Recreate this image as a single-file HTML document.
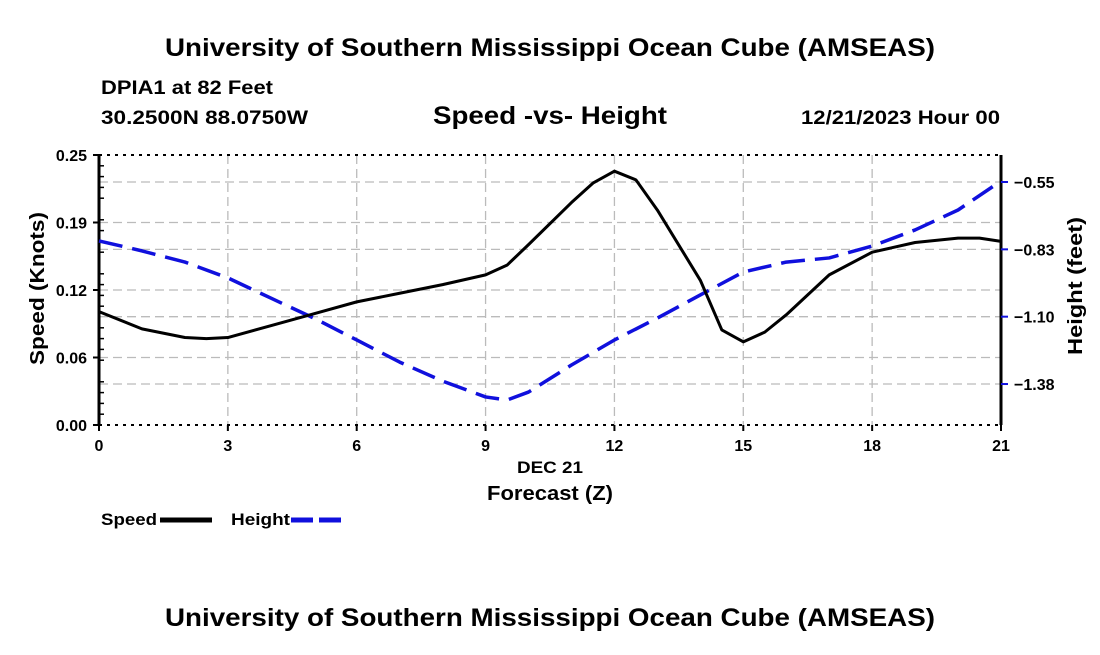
<!DOCTYPE html>
<html><head><meta charset="utf-8"><style>
body{margin:0;background:#fff;}
svg text{font-family:"Liberation Sans",Arial,sans-serif;font-weight:bold;fill:#000;}
</style></head><body>
<svg id="chart" width="1100" height="650" viewBox="0 0 1100 650">
<text x="165" y="56" font-size="25" textLength="770" lengthAdjust="spacingAndGlyphs">University of Southern Mississippi Ocean Cube (AMSEAS)</text>
<text x="101" y="94" font-size="19" textLength="172" lengthAdjust="spacingAndGlyphs">DPIA1 at 82 Feet</text>
<text x="101" y="124" font-size="19" textLength="207" lengthAdjust="spacingAndGlyphs">30.2500N  88.0750W</text>
<text x="433" y="124" font-size="25" textLength="234" lengthAdjust="spacingAndGlyphs">Speed -vs- Height</text>
<text x="801" y="124" font-size="19" textLength="199" lengthAdjust="spacingAndGlyphs">12/21/2023 Hour 00</text>
<g id="grid"></g>
<g id="axes"></g>
<g id="series"></g>
<text x="517" y="473" font-size="17" textLength="66" lengthAdjust="spacingAndGlyphs">DEC 21</text>
<text x="487" y="500" font-size="20" textLength="126" lengthAdjust="spacingAndGlyphs">Forecast (Z)</text>
<text transform="translate(44,365) rotate(-90)" font-size="20" textLength="153" lengthAdjust="spacingAndGlyphs">Speed (Knots)</text>
<text transform="translate(1082,355) rotate(-90)" font-size="20" textLength="138" lengthAdjust="spacingAndGlyphs">Height (feet)</text>
<g>
<text x="101" y="525" font-size="17" textLength="56" lengthAdjust="spacingAndGlyphs">Speed</text>
<line x1="160" y1="520" x2="212" y2="520" stroke="#000" stroke-width="5"/>
<text x="231" y="525" font-size="17" textLength="59" lengthAdjust="spacingAndGlyphs">Height</text>
<line x1="291" y1="520" x2="343" y2="520" stroke="#1010dd" stroke-width="5" stroke-dasharray="22,6"/>
</g>
<text x="165" y="626" font-size="25" textLength="770" lengthAdjust="spacingAndGlyphs">University of Southern Mississippi Ocean Cube (AMSEAS)</text>
</svg>
<script>
const hours=[0,1,2,2.5,3,4,5,6,7,8,9,9.5,10,11,11.5,12,12.5,13,14,14.5,15,15.5,16,17,18,19,20,20.5,21];
const speed=[0.105,0.089,0.081,0.080,0.081,0.092,0.103,0.114,0.122,0.130,0.139,0.148,0.167,0.206,0.224,0.235,0.227,0.199,0.134,0.088,0.077,0.086,0.102,0.139,0.160,0.169,0.173,0.173,0.170];
const heightHours=[0,1,2,3,4,5,6,7,8,9,9.5,10,11,12,13,14,15,16,17,18,19,20,21];
const heightVals=[-0.792,-0.833,-0.879,-0.944,-1.027,-1.109,-1.199,-1.290,-1.368,-1.433,-1.446,-1.413,-1.302,-1.199,-1.109,-1.014,-0.920,-0.879,-0.862,-0.813,-0.747,-0.665,-0.546];
const xTicks=[0,3,6,9,12,15,18,21];
const leftTicks=[0,0.0625,0.125,0.1875,0.25];
const leftLabels=["0.00","0.06","0.12","0.19","0.25"];
const rightTicks=[-0.55,-0.8267,-1.1033,-1.38];
const rightLabels=["\u22120.55","\u22120.83","\u22121.10","\u22121.38"];

const X0=99,X1=1001,Y0=425,Y1=155;
const xs=h=>X0+(h/21)*(X1-X0);
const ysL=v=>Y0-(v/0.25)*(Y0-Y1);
const ysR=h=>182+(-0.55-h)*243.4;
const NS="http://www.w3.org/2000/svg";
function mk(tag,attrs,parent){const e=document.createElementNS(NS,tag);for(const k in attrs)e.setAttribute(k,attrs[k]);parent.appendChild(e);return e;}
const grid=document.getElementById('grid'),axes=document.getElementById('axes'),series=document.getElementById('series');
const gs={stroke:"#bbb","stroke-width":1.3,"stroke-dasharray":"9,5"};
xTicks.forEach(t=>{if(t===0||t===21)return;
 const l=mk('line',Object.assign({x1:xs(t),x2:xs(t),y1:Y1,y2:Y0},gs),grid);
 
 });
leftTicks.forEach(v=>{if(v===0||v===0.25)return;
 const l=mk('line',Object.assign({x1:X0,x2:X1,y1:ysL(v),y2:ysL(v)},gs),grid);
 
 });
rightTicks.forEach(v=>{
 const l=mk('line',Object.assign({x1:X0,x2:X1,y1:ysR(v),y2:ysR(v)},gs),grid);
 
 });
[[X0,Y1,X0,Y0,3],[X1,Y1,X1,Y0,3]].forEach(a=>{const l=mk('line',{x1:a[0],y1:a[1],x2:a[2],y2:a[3],stroke:"#000","stroke-width":a[4]},axes);
 
 });
[Y1,Y0].forEach(y=>{const l=mk('line',{x1:X0,y1:y,x2:X1,y2:y,stroke:"#000","stroke-width":2,"stroke-dasharray":"3,5"},axes);
 
 });
for(let i=0;i<=25;i++){const y=Y0-i*(Y0-Y1)/25;const l=mk('line',{x1:X0,x2:X0+(i%5===0?0:5),y1:y,y2:y,stroke:"#000","stroke-width":1.5},axes);
 
 }
leftTicks.forEach((v,i)=>{const y=ysL(v);
 const l=mk('line',{x1:X0-6,x2:X0,y1:y,y2:y,stroke:"#000","stroke-width":2},axes);
 
 
 const t=mk('text',{x:X0-12,y:y+6,"text-anchor":"end","font-size":16},axes);t.textContent=leftLabels[i];
 
 });
rightTicks.forEach((v,i)=>{const y=ysR(v);
 const l=mk('line',{x1:X1,x2:X1+7,y1:y,y2:y,stroke:"#1010dd","stroke-width":2},axes);
 
 
 const t=mk('text',{x:X1+13,y:y+6,"font-size":16},axes);t.textContent=rightLabels[i];
 
 });
xTicks.forEach(h=>{const x=xs(h);
 const l=mk('line',{x1:x,x2:x,y1:Y0,y2:Y0+6,stroke:"#000","stroke-width":2},axes);
 
 
 const t=mk('text',{x:x,y:Y0+26,"text-anchor":"middle","font-size":16},axes);t.textContent=h;
 
 });
const hp=heightHours.map((h,i)=>xs(h)+','+ysR(heightVals[i])).join(' ');
const hl=mk('polyline',{points:hp,fill:"none",stroke:"#1010dd","stroke-width":3.5,"stroke-dasharray":"24,10","stroke-linejoin":"round"},series);


const sp=hours.map((h,i)=>xs(h)+','+ysL(speed[i])).join(' ');
const sl=mk('polyline',{points:sp,fill:"none",stroke:"#000","stroke-width":3,"stroke-linejoin":"round"},series);


</script>
</body></html>
